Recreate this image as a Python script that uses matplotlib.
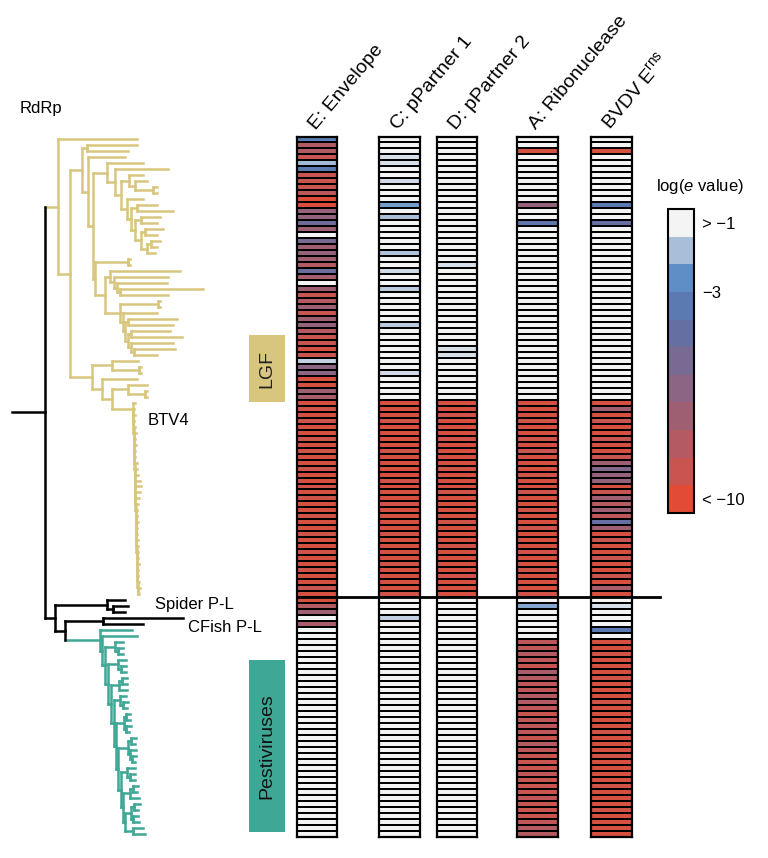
import numpy as np
import matplotlib
matplotlib.use("Agg")
import matplotlib.pyplot as plt
from matplotlib.collections import LineCollection
from matplotlib.colors import ListedColormap, LinearSegmentedColormap, BoundaryNorm, Normalize
from matplotlib.patches import Rectangle
from matplotlib.lines import Line2D
from matplotlib.transforms import blended_transform_factory
import matplotlib.cm as cm

plt.rcParams['font.family'] = ['Liberation Sans', 'DejaVu Sans']
plt.rcParams['mathtext.fontset'] = 'custom'
plt.rcParams['mathtext.rm'] = 'Liberation Sans'
plt.rcParams['mathtext.it'] = 'Liberation Sans:italic'
plt.rcParams['mathtext.bf'] = 'Liberation Sans:bold'

# ---------------- DATA ----------------
# Tree (Newick fragments, branch lengths in arbitrary distance units)
btv_tips = [2, 1, 2, 1, 1, 2, 1, 2, 1, 1, 2, 2, 3, 5, 6, 5, 4, 2, 1, 1, 2, 1, 1, 2, 1, 1, 1, 2, 1, 1, 1, 2, 1]
btv_step = 0.15

def ladder(tips, step):
    node = f"(:{tips[-2]},:{tips[-1]})"
    for t in reversed(tips[:-2]):
        node = f"(:{t},{node}:{step})"
    return node

BTV = ladder(btv_tips, btv_step)
N1 = "(:50,:41)"
N4g = "((:18,:12):4,((:9,:6):4,:8):6)"
N4f = f"((:19,:16):6,{N4g}:6)"
N4e = f"((:20,:36):6,{N4f}:4)"
N4d = f"(:16,{N4e}:4)"
N4c = "(:14,(:12,(:4,:4):18):6)"
N4b = f"({N4c}:8,{N4d}:6)"
N4 = f"(:36,(:53,{N4b}:6):8)"
N6a = "(:70,(:54,(:50,(:83,:48):3):3):4)"
N6d = "((:49,:45):3,((:39,:51):3,(:42,(:41,:23):3):3):3)"
N6b = f"((:2,:2):38,(:34,{N6d}:2):3)"
N6 = f"({N6a}:5,{N6b}:15)"
N5 = f"((:2,:2):33,{N6}:10)"
N3 = f"({N4}:14,{N5}:2)"
Y1a = f"({N1}:5,(:37,{N3}:5):6)"
P_cl = "(:26,(:2,:2):27)"
S_cl = "(:19,(:2,:2):17)"
Y1b = f"({P_cl}:20,(:35,({S_cl}:16,{BTV}:21):10):10)"
LGF = f"(:79,({Y1a}:12,{Y1b}:22):12)LGF:13"
Spider = "(:18,(:15,:12):6)"
CFish = "(:80,:40)"
B10 = "(((:6,:4):3,(:5,:6):2):6,(:10,:12):8)"
B9 = f"(((:5,:4):3,:9):7,{B10}:2)"
B8 = f"((:8,(:5,:5):3):6,{B9}:2)"
B7 = f"(((:5,:4):3,(:6,(:4,:3):2):2):10,{B8}:3)"
B6 = f"(((:4,:4):2,(:5,:3):2):8,{B7}:2)"
B5 = f"((:6,(:5,:4):3):6,{B6}:2)"
B4 = f"(((:5,:5):3,:8):8,{B5}:3)"
B3 = f"((:8,(:5,:5):3):10,{B4}:3)"
B2 = f"((:8,(:5,:5):3):10,{B3}:3)"
B1 = f"(:35,{B2}:3)"
PESTI = f"(:32,{B1}:2)"
OTHER = f"({Spider}:52,({CFish}:38,{PESTI}PESTI:35):10):10"
tree_newick = f"({LGF},{OTHER}):33;"

clade_colors = {"LGF": "#D9C67E", "PESTI": "#3FA795"}

# Heatmap: log(e value) per leaf row (rows follow tree leaf order)
col_E = [
    -3.3, -8.5, -8.5, -9.5, -1.6, -3.5, -9.5, -9.5, -9.5, -9.0,
    -10.3, -10.3, -7.0, -7.0, -5.0, -7.5, -0.5, -5.5, -7.5, -7.0,
    -7.5, -8.5, -4.8, -7.8, -0.5, -7.5, -9.5, -8.5, -7.5, -9.5,
    -7.5, -7.0, -8.5, -9.5, -9.5, -10.0, -9.5, -1.2, -6.5, -6.5,
    -10.0, -10.0, -7.5, -8.0, -10.0, -9.8, -10.0, -9.7, -10.0, -10.0,
    -9.7, -10.0, -9.8, -10.0, -10.0, -9.7, -10.0, -10.0, -9.8, -10.0,
    -9.7, -10.0, -10.0, -9.8, -10.0, -10.0, -9.7, -10.0, -10.0, -9.8,
    -10.0, -10.0, -9.7, -10.0, -10.0, -9.5, -10.0, -10.0, -8.5, -7.5,
    -0.5, -8.0, -0.5, -0.5, -0.5, -0.5, -0.5, -0.5, -0.5, -0.5,
    -0.5, -0.5, -0.5, -0.5, -0.5, -0.5, -0.5, -0.5, -0.5, -0.5,
    -0.5, -0.5, -0.5, -0.5, -0.5, -0.5, -0.5, -0.5, -0.5, -0.5,
    -0.5, -0.5, -0.5, -0.5, -0.5, -0.5, -0.5,
]
col_C = [
    -0.5, -0.5, -0.5, -0.9, -0.9, -0.5, -0.5, -1.0, -0.5, -0.5,
    -0.5, -2.2, -0.5, -1.5, -0.5, -0.5, -0.5, -0.5, -0.5, -1.4,
    -0.5, -0.5, -1.0, -0.5, -0.5, -1.3, -0.5, -0.5, -0.5, -0.5,
    -0.5, -1.3, -0.5, -0.5, -0.5, -0.5, -0.5, -0.5, -0.5, -1.0,
    -0.5, -0.5, -0.5, -0.5, -10.0, -10.0, -10.0, -9.8, -10.0, -10.0,
    -10.0, -10.0, -9.8, -10.0, -10.0, -10.0, -10.0, -9.8, -10.0, -10.0,
    -10.0, -9.8, -10.0, -10.0, -10.0, -10.0, -9.8, -10.0, -10.0, -10.0,
    -10.0, -9.8, -10.0, -10.0, -10.0, -10.0, -9.8, -0.5, -0.5, -0.5,
    -1.2, -0.5, -0.5, -0.5, -0.5, -0.5, -0.5, -0.5, -0.5, -0.5,
    -0.5, -0.5, -0.5, -0.5, -0.5, -0.5, -0.5, -0.5, -0.5, -0.5,
    -0.5, -0.5, -0.5, -0.5, -0.5, -0.5, -0.5, -0.5, -0.5, -0.5,
    -0.5, -0.5, -0.5, -0.5, -0.5, -0.5, -0.5,
]
col_D = [
    -0.5, -0.5, -0.5, -0.5, -0.5, -0.5, -0.5, -0.5, -0.5, -0.5,
    -0.5, -0.5, -0.5, -0.5, -0.5, -0.5, -0.5, -0.5, -0.5, -0.5,
    -0.5, -0.9, -0.5, -0.5, -0.5, -0.5, -0.5, -0.5, -0.5, -0.5,
    -0.5, -0.5, -0.5, -0.5, -0.5, -0.9, -0.9, -0.5, -0.5, -0.5,
    -0.5, -0.5, -0.5, -0.5, -10.0, -10.0, -9.8, -10.0, -10.0, -10.0,
    -9.8, -10.0, -10.0, -10.0, -10.0, -9.8, -10.0, -10.0, -10.0, -9.8,
    -10.0, -10.0, -10.0, -10.0, -9.8, -10.0, -10.0, -10.0, -9.8, -10.0,
    -10.0, -10.0, -10.0, -9.8, -10.0, -10.0, -10.0, -0.5, -0.5, -0.5,
    -0.5, -0.5, -0.5, -0.5, -0.5, -0.5, -0.5, -0.5, -0.5, -0.5,
    -0.5, -0.5, -0.5, -0.5, -0.5, -0.5, -0.5, -0.5, -0.5, -0.5,
    -0.5, -0.5, -0.5, -0.5, -0.5, -0.5, -0.5, -0.5, -0.5, -0.5,
    -0.5, -0.5, -0.5, -0.5, -0.5, -0.5, -0.5,
]
col_A = [
    -0.5, -0.5, -10.0, -0.5, -0.5, -0.5, -0.5, -0.5, -0.5, -0.5,
    -0.5, -7.0, -0.5, -0.5, -4.0, -0.5, -0.5, -0.5, -0.5, -0.5,
    -0.5, -0.5, -0.5, -0.5, -0.5, -0.5, -0.5, -0.5, -0.5, -0.5,
    -0.5, -0.5, -0.5, -0.5, -0.5, -0.5, -0.5, -0.5, -0.5, -0.5,
    -0.5, -0.5, -0.5, -0.5, -10.0, -10.0, -10.0, -9.8, -10.0, -10.0,
    -9.7, -10.0, -9.5, -10.0, -10.0, -10.0, -9.8, -10.0, -10.0, -9.7,
    -10.0, -10.0, -9.8, -10.0, -10.0, -9.6, -10.0, -10.0, -10.0, -9.8,
    -10.0, -10.0, -9.7, -10.0, -10.0, -10.0, -9.8, -0.5, -2.0, -0.5,
    -0.5, -0.5, -0.5, -0.5, -9.0, -9.0, -8.5, -9.0, -9.5, -8.0,
    -8.5, -9.0, -9.0, -8.5, -8.5, -9.0, -9.5, -9.0, -9.0, -9.0,
    -9.5, -8.5, -9.0, -9.5, -9.5, -9.5, -9.0, -9.5, -9.5, -9.5,
    -9.0, -9.5, -9.5, -9.5, -9.0, -8.5, -8.5,
]
col_BVDV = [
    -0.5, -0.5, -10.0, -0.5, -0.5, -0.5, -0.5, -0.5, -0.5, -0.5,
    -0.5, -3.5, -0.5, -0.5, -4.5, -0.5, -0.5, -0.5, -0.5, -0.5,
    -0.5, -0.5, -0.5, -0.5, -0.5, -0.5, -0.5, -0.5, -0.5, -0.5,
    -0.5, -0.5, -0.5, -0.5, -0.5, -0.5, -0.5, -0.5, -0.5, -0.5,
    -0.5, -0.5, -0.5, -0.5, -10.0, -7.5, -10.0, -9.5, -10.0, -10.0,
    -9.5, -10.0, -10.0, -9.5, -7.5, -6.0, -7.0, -7.0, -10.0, -9.5,
    -7.5, -8.5, -7.5, -9.0, -4.5, -7.5, -10.0, -9.5, -10.0, -10.0,
    -9.5, -10.0, -10.0, -9.5, -10.0, -8.0, -10.0, -0.5, -0.9, -0.5,
    -0.5, -0.5, -3.5, -0.5, -10.0, -10.0, -9.8, -10.0, -10.0, -10.0,
    -9.8, -10.0, -10.0, -10.0, -9.8, -10.0, -10.0, -10.0, -10.0, -9.8,
    -10.0, -10.0, -10.0, -9.8, -10.0, -10.0, -10.0, -10.0, -9.8, -10.0,
    -10.0, -10.0, -9.8, -10.0, -10.0, -10.0, -10.0,
]
columns = [col_E, col_C, col_D, col_A, col_BVDV]
column_names = ["E: Envelope", "C: pPartner 1", "D: pPartner 2", "A: Ribonuclease",
                "BVDV E$^{\\mathrm{rns}}$"]
n_lgf_rows = 77   # rows above the divider line

# colour scale (band colours from >-1 down to <-10)
band_colors = ["#F4F4F4", "#A9BED9", "#5F8DC6", "#5A7AB1", "#666FA1", "#786A92",
               "#8B6583", "#9F5F73", "#B35A62", "#C95551", "#E24B35"]
band_bounds = [-11, -10, -9, -8, -7, -6, -5, -4, -3, -2, -1, 0]
cbar_ticks = [-0.5, -3, -10.5]
cbar_labels = ["> \u22121", "\u22123", "< \u221210"]

# ---------------- FIGURE ----------------
W, H = 768, 858
fig = plt.figure(figsize=(W / 100, H / 100), dpi=100)

def fbox(x0, y0, x1, y1):
    return [x0 / W, 1 - y1 / H, (x1 - x0) / W, (y1 - y0) / H]

HM_TOP, HM_BOT = 136.5, 836.5

# ---- tree ----
def parse_newick(s):
    s = "".join(s.split()).rstrip(';')
    pos = [0]
    def node():
        children = []
        if s[pos[0]] == '(':
            pos[0] += 1
            while True:
                children.append(node())
                ch = s[pos[0]]
                pos[0] += 1
                if ch == ')':
                    break
        label = ''
        while pos[0] < len(s) and s[pos[0]] not in ':,()':
            label += s[pos[0]]
            pos[0] += 1
        length = 0.0
        if pos[0] < len(s) and s[pos[0]] == ':':
            pos[0] += 1
            st = pos[0]
            while pos[0] < len(s) and s[pos[0]] not in ',()':
                pos[0] += 1
            length = float(s[st:pos[0]])
        return {'children': children, 'label': label, 'length': length}
    return node()

root = parse_newick(tree_newick)
segs, seg_cols = [], []
counter = [0]

def walk(n, x0, color):
    c = clade_colors.get(n['label'], color)
    x = x0 + n['length']
    if n['children']:
        ys = [walk(ch, x, c) for ch in n['children']]
        y = (ys[0] + ys[-1]) / 2
        segs.append([(x, ys[0]), (x, ys[-1])])
        seg_cols.append(c)
    else:
        y = counter[0]
        counter[0] += 1
    segs.append([(x0, y), (x, y)])
    seg_cols.append(c)
    return y

walk(root, 0.0, 'black')
n_rows = counter[0]

axT = fig.add_axes(fbox(0, HM_TOP, 248, HM_BOT))
axT.add_collection(LineCollection(segs, colors=seg_cols, linewidths=1.8,
                                  capstyle='projecting'))
axT.set_xlim(-12, 236)
axT.set_ylim(n_rows - 0.5, -0.5)
axT.axis('off')
axT.text(136, 46.9, "BTV4", fontsize=12, va='center', ha='left')
axT.text(143, 77.8, "Spider P-L", fontsize=12, va='center', ha='left')
axT.text(176, 81.6, "CFish P-L", fontsize=12, va='center', ha='left')
fig.text(20 / W, 1 - 108 / H, "RdRp", fontsize=12, va='center', ha='left')

# ---- group boxes ----
fig.add_artist(Rectangle((249 / W, 1 - 402 / H), 36 / W, 67 / H, transform=fig.transFigure,
                         facecolor="#D9C67E", edgecolor='none'))
fig.text(267 / W, 1 - 368.5 / H, "LGF", rotation=90, fontsize=14, color="#222222",
         ha='center', va='center')
fig.add_artist(Rectangle((249 / W, 1 - 832 / H), 36 / W, 172 / H, transform=fig.transFigure,
                         facecolor="#3FA795", edgecolor='none'))
fig.text(267 / W, 1 - 746 / H, "Pestiviruses", rotation=90, fontsize=14, color="#111111",
         ha='center', va='center')

# ---- heatmap columns ----
cmap_cont = LinearSegmentedColormap.from_list("ev", band_colors[::-1])
norm_cont = Normalize(vmin=-10.5, vmax=-0.5, clip=True)
column_px = [(297, 337), (379, 420), (437, 477), (517, 558), (591, 632)]
col_axes = []
for vals, name, (x0, x1) in zip(columns, column_names, column_px):
    ax = fig.add_axes(fbox(x0, HM_TOP, x1, HM_BOT))
    v = np.array(vals, dtype=float)[:, None]
    ax.pcolormesh(np.array([0, 1]), np.arange(len(vals) + 1), v, cmap=cmap_cont,
                  norm=norm_cont, edgecolors='black', linewidth=1.1)
    ax.set_xlim(0, 1)
    ax.set_ylim(len(vals), 0)
    ax.set_xticks([])
    ax.set_yticks([])
    for sp in ax.spines.values():
        sp.set_linewidth(1.6)
    fig.text((x0 + 22) / W, 1 - 133 / H, name, rotation=50, rotation_mode='anchor',
             ha='left', va='bottom', fontsize=14)
    col_axes.append(ax)

# divider line between LGF rows and the rest
tr = blended_transform_factory(fig.transFigure, col_axes[0].transData)
fig.add_artist(Line2D([297 / W, 660 / W], [n_lgf_rows, n_lgf_rows], transform=tr,
                      color='black', linewidth=2.0))

# ---- colour bar ----
cax = fig.add_axes(fbox(668, 209, 694, 513))
cmap_band = ListedColormap(band_colors[::-1])
norm_band = BoundaryNorm(band_bounds, cmap_band.N)
cb = fig.colorbar(cm.ScalarMappable(norm=norm_band, cmap=cmap_band), cax=cax,
                  ticks=cbar_ticks)
cb.ax.minorticks_off()
cb.ax.set_yticks(cbar_ticks)
cb.ax.set_yticklabels(cbar_labels, fontsize=12)
cb.ax.tick_params(length=0, pad=6, which='both')
cb.outline.set_linewidth(1.5)
fig.text(700 / W, 1 - 187 / H, "log($e$ value)", fontsize=12, ha='center', va='center')

fig.savefig("out.png", dpi=100)
